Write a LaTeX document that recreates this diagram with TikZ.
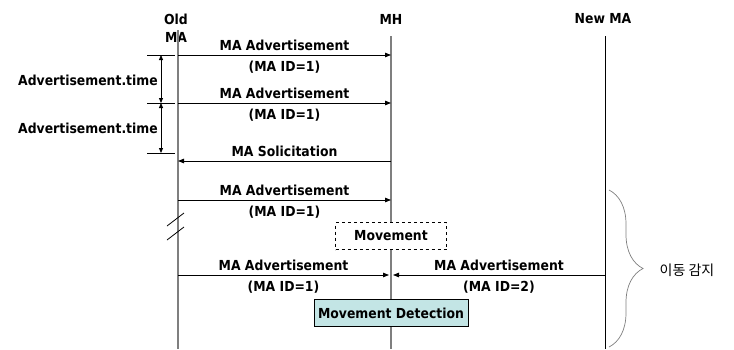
\documentclass[tikz,border=0pt]{standalone}
\usepackage{fontspec}
\setmainfont[FakeStretch=0.9]{DejaVu Sans}
\newfontfamily\krfont{Noto Sans CJK KR}
\usetikzlibrary{arrows.meta,decorations.pathreplacing}
\definecolor{lifegray}{HTML}{7F7F7F}
\definecolor{detectfill}{HTML}{C3E5E5}
\tikzset{
  lbl/.style={font=\bfseries\fontsize{13.8}{15}\selectfont, inner sep=0pt},
  life/.style={draw=lifegray, line width=1.3pt},
  msg/.style={draw=black, line width=0.8pt, -{Triangle[length=6pt,width=4.5pt]}},
  tick/.style={draw=black, line width=0.8pt},
  dim/.style={draw=black, line width=0.8pt, {Triangle[length=5pt,width=4pt]}-{Triangle[length=5pt,width=4pt]}},
  msgtop/.style={lbl, above=4pt},
  msgbot/.style={lbl, below=6pt},
}
\begin{document}
\begin{tikzpicture}[x=1pt,y=-1pt]
\useasboundingbox (0,0) rectangle (734,349);

% lifeline headers
\node[lbl] (old1) at (176,19) {Old};
\node[lbl] (old2) at (176,37) {MA};
\node[lbl] (mh)   at (391,19) {MH};
\node[lbl] (nma)  at (603,19) {New MA};

% lifelines
\coordinate (oldtop) at (178,30);  \coordinate (oldbot) at (178,349);
\coordinate (mhtop)  at (391,36);  \coordinate (mhbot)  at (391,349);
\coordinate (nmatop) at (605,36);  \coordinate (nmabot) at (605,349);
\draw[life] (oldtop) -- (oldbot);
\draw[life] (mhtop) -- (mhbot);
\draw[draw=black, line width=1pt] (nmatop) -- (nmabot);

% message end points
\coordinate (o1) at (178,55);  \coordinate (h1) at (391,55);
\coordinate (o2) at (178,103); \coordinate (h2) at (391,103);
\coordinate (o3) at (178,161); \coordinate (h3) at (391,161);
\coordinate (o4) at (178,200); \coordinate (h4) at (391,200);
\coordinate (o5) at (178,275); \coordinate (h5) at (389,275);
\coordinate (n6) at (605,275); \coordinate (h6) at (393,275);

\draw[msg] (o1) -- node[msgtop] (t1) {MA Advertisement} node[msgbot] (b1) {(MA ID=1)} (h1);
\draw[msg] (o2) -- node[msgtop] (t2) {MA Advertisement} node[msgbot] (b2) {(MA ID=1)} (h2);
\draw[msg] (h3) -- node[msgtop] (t3) {MA Solicitation} (o3);
\draw[msg] (o4) -- node[msgtop] (t4) {MA Advertisement} node[msgbot] (b4) {(MA ID=1)} (h4);
\draw[msg] (o5) -- node[msgtop] (t5) {MA Advertisement} node[msgbot] (b5) {(MA ID=1)} (h5);
\draw[msg] (n6) -- node[msgtop] (t6) {MA Advertisement} node[msgbot] (b6) {(MA ID=2)} (h6);

% interval dimensions
\coordinate (k1a) at (147,55);  \coordinate (k1b) at (175,55);
\coordinate (k2a) at (147,103); \coordinate (k2b) at (175,103);
\coordinate (k3a) at (147,153); \coordinate (k3b) at (175,153);
\draw[tick] (k1a) -- (k1b);
\draw[tick] (k2a) -- (k2b);
\draw[tick] (k3a) -- (k3b);
\coordinate (d1) at (161,55); \coordinate (d2) at (161,103); \coordinate (d3) at (161,153);
\draw[dim] (d1) -- (d2);
\draw[dim] (d2) -- (d3);
\node[lbl] (at1) at (88,80)  {Advertisement.time};
\node[lbl] (at2) at (88,128) {Advertisement.time};

% time break marks
\coordinate (s1a) at (167,226); \coordinate (s1b) at (184,213);
\coordinate (s2a) at (167,240); \coordinate (s2b) at (184,227);
\draw[line width=0.8pt] (s1a) -- (s1b);
\draw[line width=0.8pt] (s2a) -- (s2b);

% state boxes
\node[lbl, draw=black, dashed, line width=0.7pt, fill=white,
      minimum width=111pt, minimum height=27pt] (move) at (391,236) {Movement};
\node[lbl, draw=black, line width=0.8pt, fill=detectfill,
      minimum width=154pt, minimum height=27pt] (detect) at (391,313) {Movement Detection};

% detection interval
\coordinate (brtop) at (609,190); \coordinate (brbot) at (609,347);
\draw[lifegray, line width=0.7pt, decorate,
      decoration={brace, amplitude=34pt, aspect=0.5}] (brtop) -- (brbot);
\node[font=\krfont\fontsize{14}{16}\selectfont, inner sep=0pt] (kr) at (687,270) {이동 감지};
\end{tikzpicture}
\end{document}
